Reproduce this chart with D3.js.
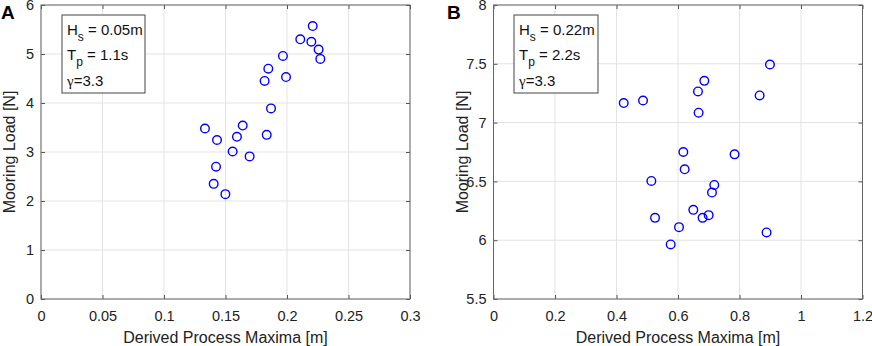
<!DOCTYPE html>
<html><head><meta charset="utf-8">
<script src="https://cdn.jsdelivr.net/npm/d3@7"></script>
<style>
html,body{margin:0;padding:0;background:#fff;}
svg{display:block;font-family:"Liberation Sans",Arial,Helvetica,sans-serif;}
</style></head>
<body>
<svg id="chart" width="872" height="346"></svg>
<script>
// Panel A data
const aX = [0.1333,0.1431,0.1423,0.1404,0.1499,0.1558,0.1593,0.1640,0.1696,0.1835,0.1870,0.1818,0.1848,0.1967,0.1992,0.2108,0.2198,0.2209,0.2257,0.2271];
const aY = [3.48,3.245,2.70,2.35,2.14,3.01,3.31,3.54,2.91,3.35,3.89,4.45,4.70,4.96,4.53,5.30,5.25,5.57,5.09,4.90];
const aXTicks = [0,0.05,0.1,0.15,0.2,0.25,0.3];
const aYTicks = [0,1,2,3,4,5,6];
const aLegend = ["0.05m","1.1s","3.3"];
// Panel B data
const bX = [0.4235,0.4863,0.665,0.6856,0.667,0.8654,0.899,0.6173,0.784,0.6217,0.5134,0.718,0.7105,0.6498,0.6997,0.680,0.5253,0.6033,0.888,0.5762];
const bY = [7.166,7.188,7.265,7.355,7.084,7.231,7.494,6.75,6.73,6.603,6.504,6.47,6.405,6.258,6.213,6.19,6.19,6.111,6.066,5.964];
const bXTicks = [0,0.2,0.4,0.6,0.8,1,1.2];
const bYTicks = [5.5,6,6.5,7,7.5,8];
const bLegend = ["0.22m","2.2s","3.3"];

const xLabel = "Derived Process Maxima [m]";
const yLabel = "Mooring Load [N]";

const svg = d3.select("#chart");

function panel(opt){
  const g = svg.append("g");
  const x = d3.scaleLinear().domain(opt.xDom).range([opt.left, opt.right]);
  const y = d3.scaleLinear().domain(opt.yDom).range([opt.bottom, opt.top]);
  // grid
  g.append("g").selectAll("line").data(opt.xTicks).join("line")
    .attr("x1",d=>x(d)).attr("x2",d=>x(d)).attr("y1",opt.top).attr("y2",opt.bottom)
    .attr("stroke","#e3e3e3").attr("stroke-width",1);
  g.append("g").selectAll("line").data(opt.yTicks).join("line")
    .attr("y1",d=>y(d)).attr("y2",d=>y(d)).attr("x1",opt.left).attr("x2",opt.right)
    .attr("stroke","#e3e3e3").attr("stroke-width",1);
  // axes (ticks inward)
  const xa = g.append("g").attr("transform",`translate(0,${opt.bottom})`)
    .call(d3.axisBottom(x).tickValues(opt.xTicks).tickSizeInner(-4).tickSizeOuter(0).tickPadding(12).tickFormat(d3.format("~g")));
  const xt = g.append("g").attr("transform",`translate(0,${opt.top})`)
    .call(d3.axisTop(x).tickValues(opt.xTicks).tickSizeInner(-4).tickSizeOuter(0).tickFormat(""));
  const ya = g.append("g").attr("transform",`translate(${opt.left},0)`)
    .call(d3.axisLeft(y).tickValues(opt.yTicks).tickSizeInner(-4).tickSizeOuter(0).tickPadding(7).tickFormat(d3.format("~g")));
  const yr = g.append("g").attr("transform",`translate(${opt.right},0)`)
    .call(d3.axisRight(y).tickValues(opt.yTicks).tickSizeInner(-4).tickSizeOuter(0).tickFormat(""));
  [xa,xt,ya,yr].forEach(a=>{
    a.select(".domain").remove();
    a.selectAll("line").attr("stroke","#555");
    a.selectAll("text").attr("fill","#222").style("font-size","14.5px").style("font-family","Liberation Sans, Arial, sans-serif");
  });
  // frame
  g.append("rect").attr("x",opt.left).attr("y",opt.top)
    .attr("width",opt.right-opt.left).attr("height",opt.bottom-opt.top)
    .attr("fill","none").attr("stroke","#666").attr("stroke-width",1);
  // points
  g.append("g").selectAll("circle").data(opt.xs.map((v,i)=>[v,opt.ys[i]])).join("circle")
    .attr("cx",d=>x(d[0])).attr("cy",d=>y(d[1])).attr("r",4.3)
    .attr("fill","none").attr("stroke","#0000ff").attr("stroke-width",1.4);
  // axis titles
  g.append("text").attr("x",(opt.left+opt.right)/2).attr("y",343)
    .attr("text-anchor","middle").attr("fill","#222").style("font-size","16px").text(xLabel);
  g.append("text").attr("transform",`translate(${opt.left-26},${(opt.top+opt.bottom)/2}) rotate(-90)`)
    .attr("text-anchor","middle").attr("fill","#222").style("font-size","16px").text(yLabel);
  // panel letter
  svg.append("text").attr("x",opt.letterX).attr("y",19).attr("font-weight","bold")
    .style("font-size","19px").attr("fill","#000").text(opt.letter);
  // legend box
  const lb = g.append("g").attr("transform",`translate(${opt.legX},15)`);
  lb.append("rect").attr("x",0).attr("y",0).attr("width",opt.legW).attr("height",78)
    .attr("fill","#fff").attr("stroke","#444").attr("stroke-width",1);
  const t1 = lb.append("text").attr("x",5).attr("y",20).style("font-size","15px").attr("fill","#111");
  t1.append("tspan").text("H");
  t1.append("tspan").attr("dy",6).style("font-size","12px").text("s");
  t1.append("tspan").attr("dy",-6).text(" = " + opt.leg[0]);
  const t2 = lb.append("text").attr("x",5).attr("y",45).style("font-size","15px").attr("fill","#111");
  t2.append("tspan").text("T");
  t2.append("tspan").attr("dy",6).style("font-size","12px").text("p");
  t2.append("tspan").attr("dy",-6).text(" = " + opt.leg[1]);
  const t3 = lb.append("text").attr("x",5).attr("y",71).style("font-size","15px").attr("fill","#111");
  t3.append("tspan").style("font-family","Liberation Serif, serif").text("\u03b3");
  t3.append("tspan").text("=" + opt.leg[2]);
}

panel({left:41,right:410,top:5,bottom:299,xDom:[0,0.3],yDom:[0,6],xTicks:aXTicks,yTicks:aYTicks,
  xs:aX,ys:aY,letter:"A",letterX:1,legX:62,legW:83,leg:aLegend});
panel({left:493.5,right:862.5,top:5,bottom:299,xDom:[0,1.2],yDom:[5.5,8],xTicks:bXTicks,yTicks:bYTicks,
  xs:bX,ys:bY,letter:"B",letterX:447,legX:514,legW:84,leg:bLegend});
</script>
</body></html>
